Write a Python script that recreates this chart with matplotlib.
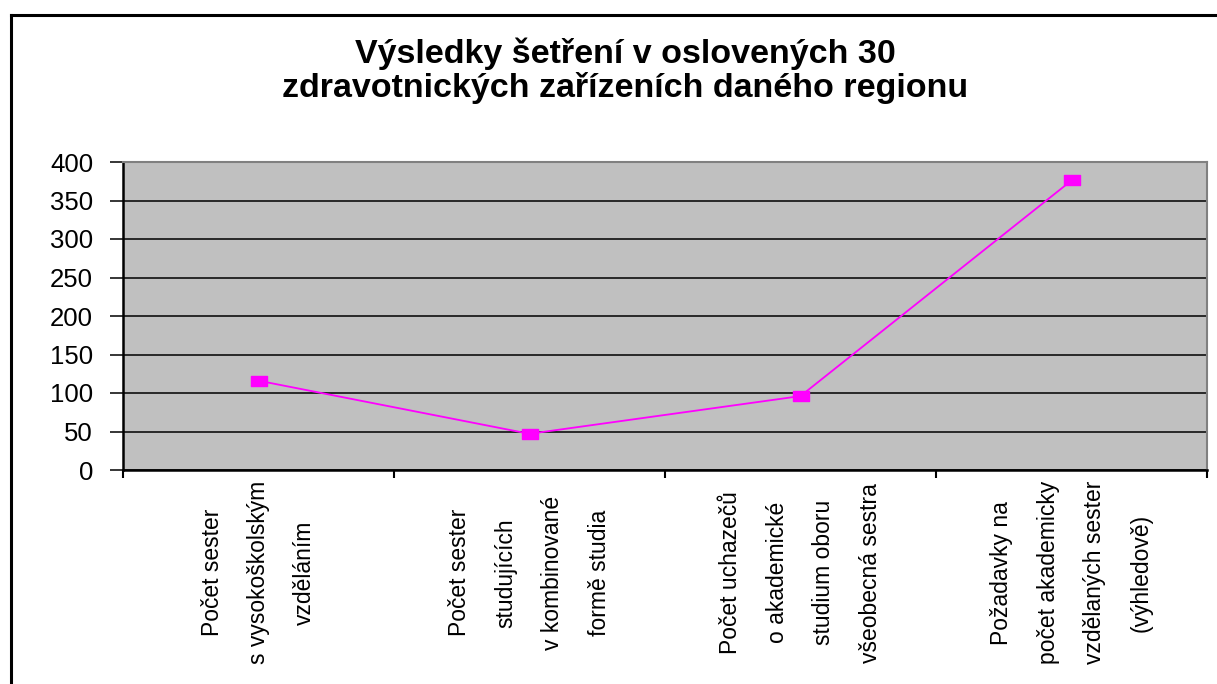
import matplotlib.pyplot as plt
import numpy as np
from matplotlib.lines import Line2D
from matplotlib.path import Path

# --- data ---
title_lines = ["Výsledky šetření v oslovených 30",
               "zdravotnických zařízeních daného regionu"]
categories = [
    "Počet sester\ns vysokoškolským\nvzděláním",
    "Počet sester\nstudujících\nv kombinované\nformě studia",
    "Počet uchazečů\no akademické\nstudium oboru\nvšeobecná sestra",
    "Požadavky na\npočet akademicky\nvzdělaných sester\n(výhledově)",
]
values = [116, 47, 96, 376]
y_ticks = [0, 50, 100, 150, 200, 250, 300, 350, 400]

plt.rcParams['font.family'] = ['Liberation Sans', 'DejaVu Sans']

W, H = 1217, 684
fig = plt.figure(figsize=(W / 100, H / 100), dpi=100)
fig.patch.set_facecolor('white')

# plot area in pixels: x 123..1207, y 162..470
ax = fig.add_axes([123 / W, 1 - 470 / H, (1207 - 123) / W, (470 - 162) / H])
ax.set_facecolor('#C0C0C0')

x = np.arange(len(categories))
# flat rectangle marker, like the stretched Excel square
rect = Path([(-1, -0.62), (1, -0.62), (1, 0.62), (-1, 0.62), (-1, -0.62)],
            [Path.MOVETO, Path.LINETO, Path.LINETO, Path.LINETO, Path.CLOSEPOLY])
ax.plot(x, values, color='#FF00FF', lw=1.3, marker=rect, ms=11,
        mec='#FF00FF', mfc='#FF00FF', zorder=3, clip_on=False)

ax.set_xlim(-0.5, len(categories) - 0.5)
ax.set_ylim(0, 400)

# horizontal gridlines
ax.set_yticks(y_ticks)
ax.yaxis.grid(True, color='black', lw=1.1)
ax.set_axisbelow(True)
ax.tick_params(axis='y', direction='out', length=9.5, width=1.1, pad=12,
               labelsize=18.5, colors='black')

# category boundary ticks, labels on minor ticks at centres
ax.set_xticks(np.arange(len(categories) + 1) - 0.5)
ax.set_xticklabels([])
ax.tick_params(axis='x', which='major', direction='out', length=6, width=1.5)
ax.set_xticks(x, minor=True)
ax.set_xticklabels(categories, minor=True, rotation=90, ha='center',
                   va='center', fontsize=16.5, linespacing=2.3,
                   multialignment='center')
ax.tick_params(axis='x', which='minor', length=0, pad=74)

for side in ['top', 'right']:
    ax.spines[side].set_color('#808080')
    ax.spines[side].set_linewidth(1.5)
for side in ['left', 'bottom']:
    ax.spines[side].set_color('black')
    ax.spines[side].set_linewidth(1.8)

# title
fig.text(625 / W, 1 - 63 / H, title_lines[0], ha='center', va='baseline',
         fontsize=24.5, fontweight='bold')
fig.text(625 / W, 1 - 97 / H, title_lines[1], ha='center', va='baseline',
         fontsize=24.5, fontweight='bold')

# chart frame (left and top edges visible)
fig.add_artist(Line2D([11 / W, 11 / W], [0, 1 - 15 / H], color='black', lw=2.2))
fig.add_artist(Line2D([11 / W, 1], [1 - 15 / H, 1 - 15 / H], color='black', lw=2.2))

fig.savefig('out.png', dpi=100)
